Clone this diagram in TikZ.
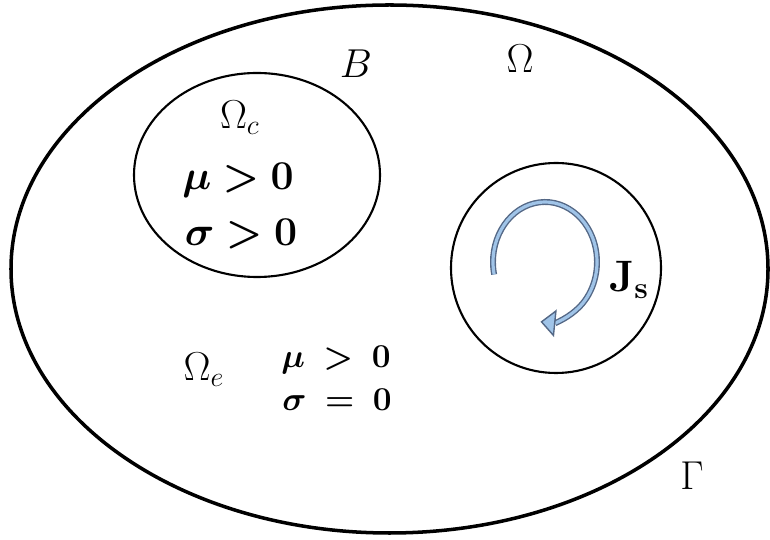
\documentclass[tikz,border=0pt]{standalone}
\usepackage{amsmath,bm}
\usepackage{tikz}
\usetikzlibrary{arrows.meta}
\definecolor{jsblue}{RGB}{160,196,232}
\definecolor{jsedge}{RGB}{84,104,134}

\begin{document}
\begin{tikzpicture}[x=0.02cm,y=0.02cm,
  domline/.style={black,line width=1.2pt},
  glabel/.style={font=\LARGE,scale=1.33},
  condbig/.style={font=\LARGE,scale=1.35},
  condsmall/.style={font=\LARGE,scale=1.1}]
  \useasboundingbox (0,0) rectangle (770,540);
  % domains
  \draw[black,line width=2pt] (389.5,271) ellipse [x radius=378.5, y radius=264];
  \draw[domline] (257,365) ellipse [x radius=123, y radius=102];
  \draw[domline] (556,272) circle [radius=105];
  % source current
  \draw[jsedge,line width=0.8pt,double=jsblue,double distance=1.8pt,
    -{Triangle[length=0.3cm,width=0.55cm,fill=jsblue]}]
    ([shift={(192:52 and 60)}]545,278) arc [start angle=192, end angle=-95, x radius=52, y radius=60];
  % labels
  \node[glabel] (omega) at (520,481) {$\Omega$};
  \node[glabel] (bdry) at (356,476) {$B$};
  \node[glabel] (omc) at (240,422) {$\Omega_c$};
  \node[condbig] (muc) at (238,360) {$\boldsymbol{\mu > 0}$};
  \node[condbig] (sigc) at (241,306) {$\boldsymbol{\sigma > 0}$};
  \node[glabel] (ome) at (204,170) {$\Omega_e$};
  \node[condsmall] (mue) at (336,180) {$\boldsymbol{\mu \;>\; 0}$};
  \node[condsmall] (sige) at (337,140) {$\boldsymbol{\sigma \;=\; 0}$};
  \node[font=\LARGE,scale=1.45] (js) at (629,260) {$\mathbf{J}_{\mathbf{s}}$};
  \node[glabel] (gam) at (692,64) {$\Gamma$};
\end{tikzpicture}
\end{document}
